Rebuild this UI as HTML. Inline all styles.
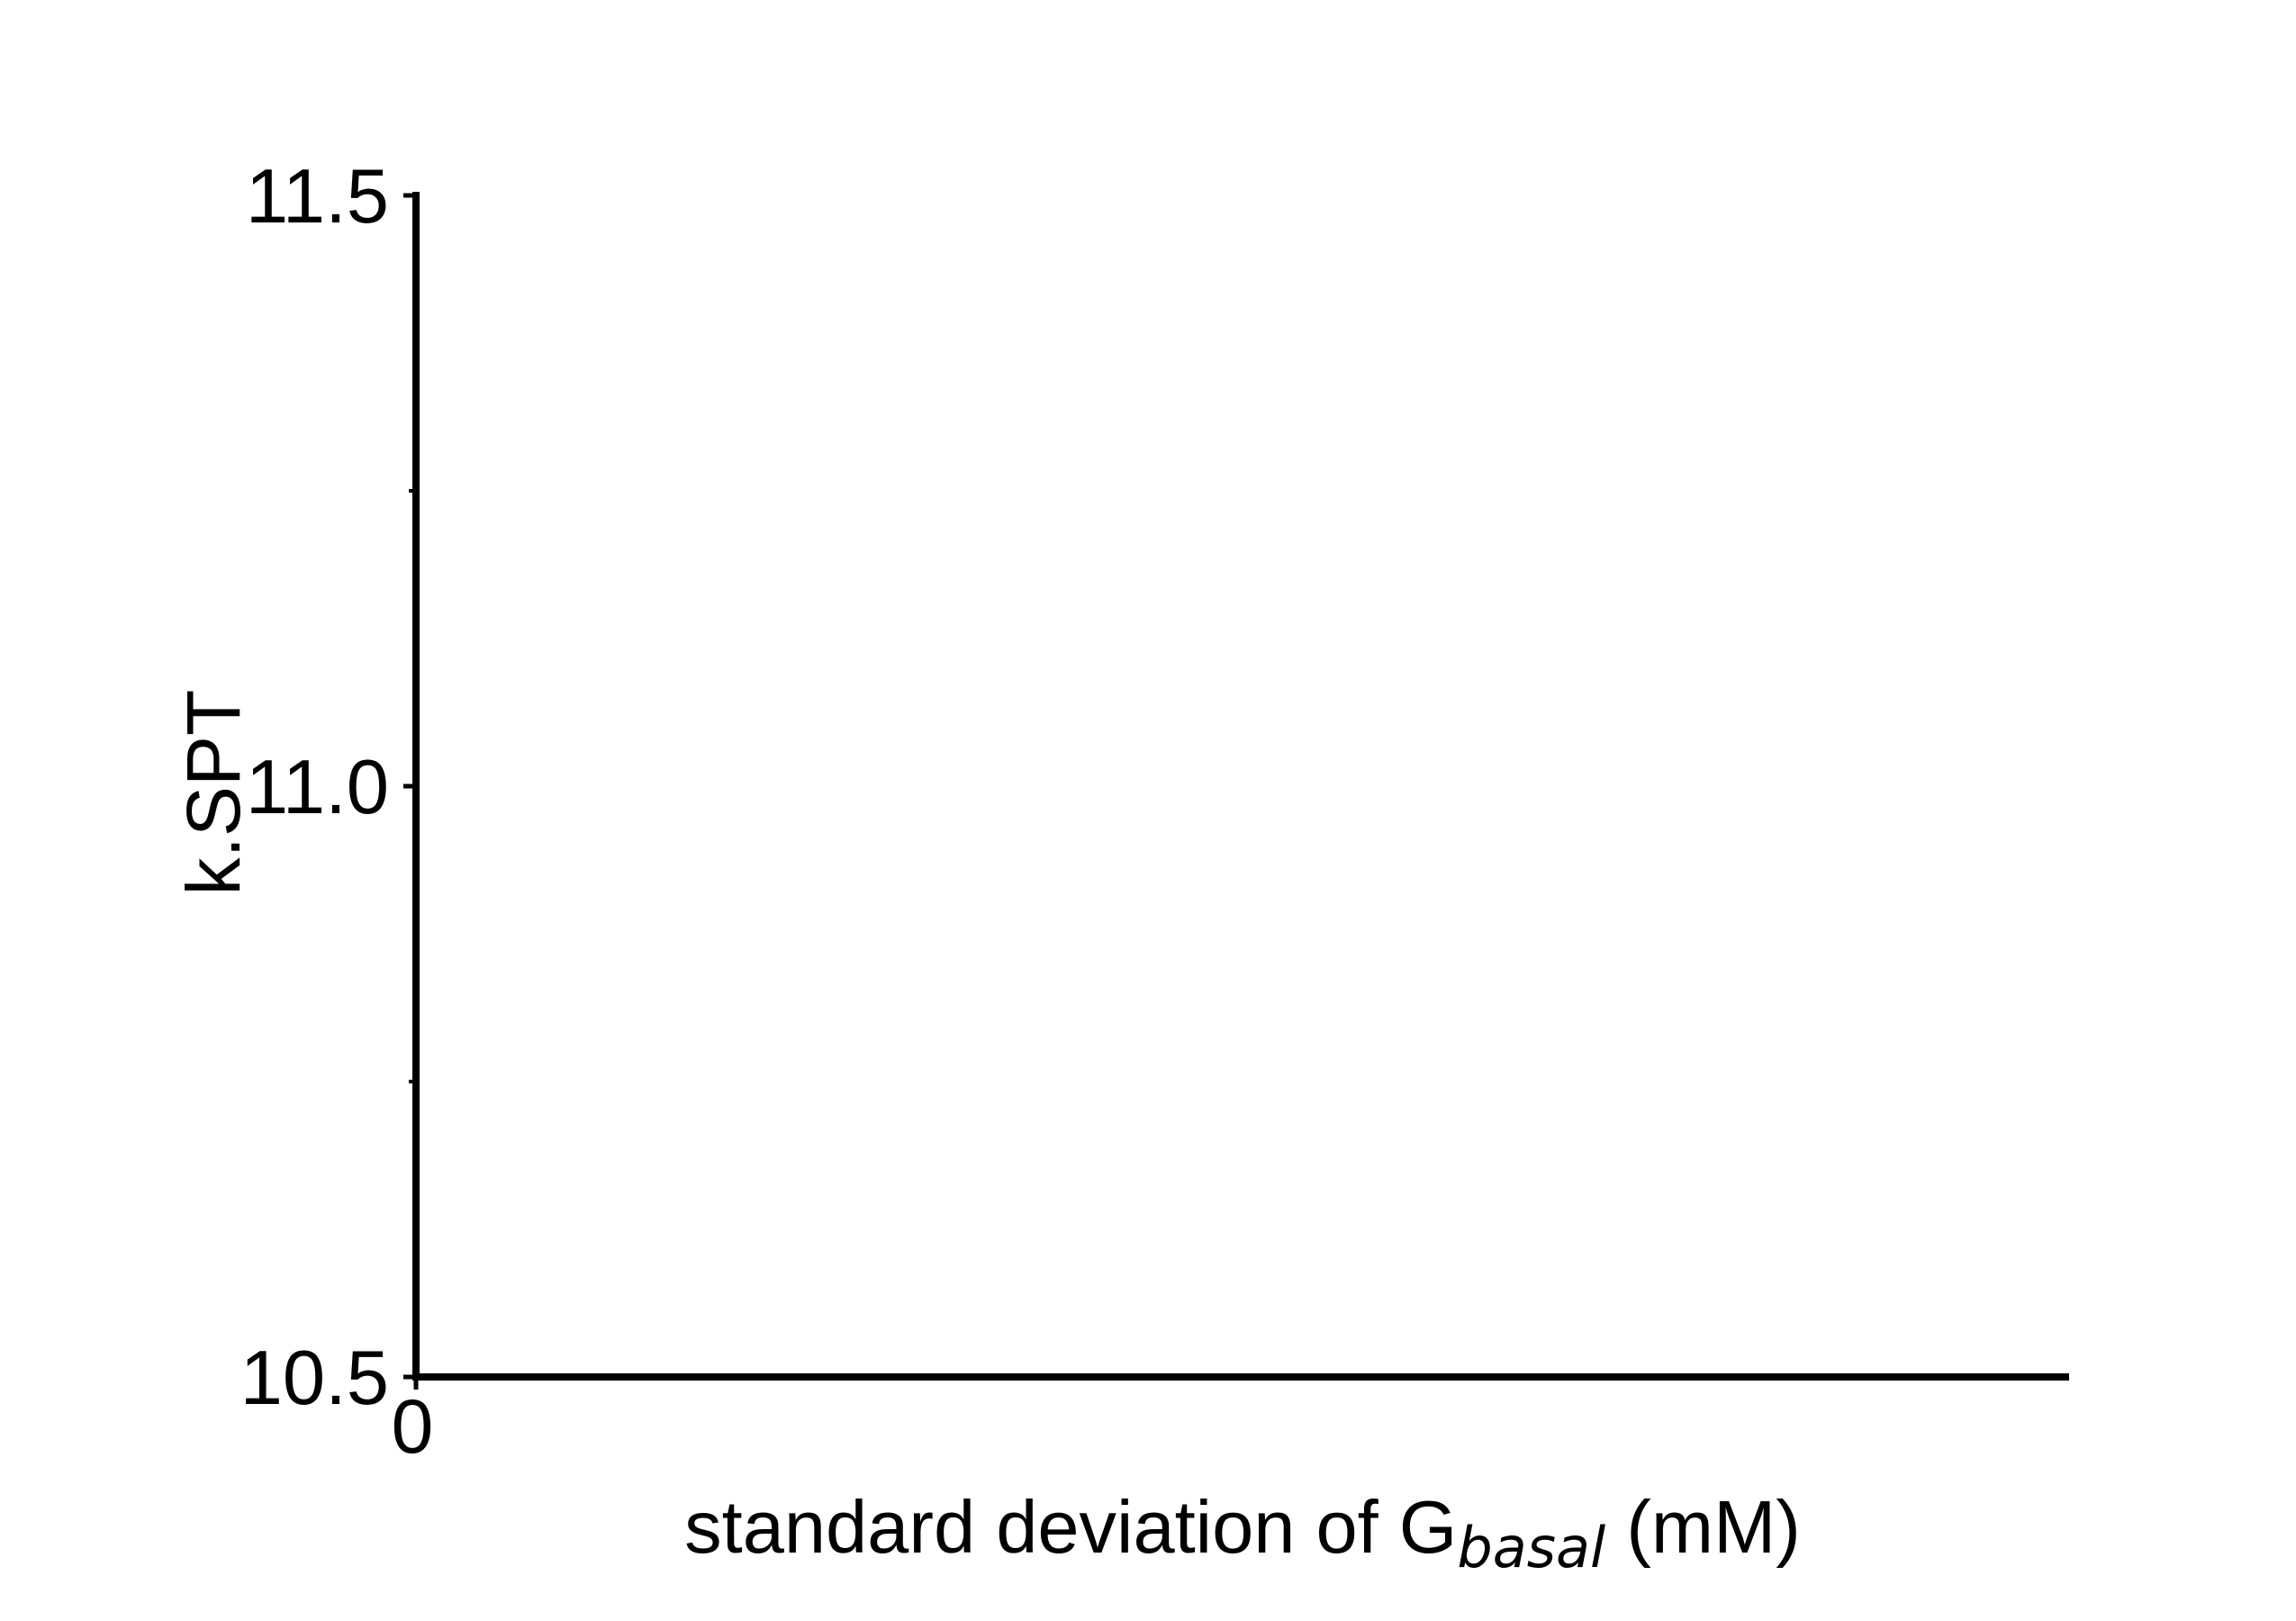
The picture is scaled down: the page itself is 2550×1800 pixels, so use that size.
<!DOCTYPE html>
<html><head><meta charset="utf-8"><style>
html,body{margin:0;padding:0;background:#fff;}
svg{display:block;font-family:"Liberation Sans",Arial,sans-serif;}
</style></head><body>
<svg width="2550" height="1800" viewBox="0 0 2550 1800" id="chart">
<rect width="2550" height="1800" fill="#fff"/>
<g id="axes"></g>
<text x="1380" y="1724" font-size="83" text-anchor="middle">standard deviation of G<tspan font-style="italic" font-family="DejaVu Sans" font-size="62" dy="16">basal</tspan><tspan dy="-16"> (mM)</tspan></text>
<text transform="translate(266,880) rotate(-90)" font-size="84" text-anchor="middle">k.SPT</text>
</svg>
<script>
const yTicks=[10.5,11.0,11.5];
const yTickLabels=["10.5","11.0","11.5"];
const yMinorTicks=[10.75,11.25];
const xTicks=[0];
const xTickLabels=["0"];
const NS="http://www.w3.org/2000/svg";
const X0=462,X1=2298,Y0=1529,Y1=217;
const yMin=10.5,yMax=11.5,xMin=0,xMax=1;
function ys(v){return Y0-(v-yMin)/(yMax-yMin)*(Y0-Y1);}
function xs(v){return X0+(v-xMin)/(xMax-xMin)*(X1-X0);}
const g=document.getElementById('axes');
function mk(tag,attrs){const e=document.createElementNS(NS,tag);for(const k in attrs)e.setAttribute(k,attrs[k]);g.appendChild(e);return e;}
let e=mk('line',{x1:X0,y1:Y1-4,x2:X0,y2:Y0+4,stroke:'#000','stroke-width':8});


e=mk('line',{x1:X0-4,y1:Y0,x2:X1,y2:Y0,stroke:'#000','stroke-width':8});


yTicks.forEach((v,i)=>{
  let t=mk('line',{x1:X0-14,y1:ys(v),x2:X0,y2:ys(v),stroke:'#000','stroke-width':5});
  
  
  let l=mk('text',{x:X0-30,y:ys(v)+30,'font-size':85,'text-anchor':'end'});
  l.textContent=yTickLabels[i];
  
  
});
yMinorTicks.forEach(v=>{
  let t=mk('line',{x1:X0-8,y1:ys(v),x2:X0,y2:ys(v),stroke:'#000','stroke-width':4});
  
  
});
xTicks.forEach((v,i)=>{
  let t=mk('line',{x1:xs(v),y1:Y0,x2:xs(v),y2:Y0+14,stroke:'#000','stroke-width':5});
  
  
  let l=mk('text',{x:xs(v)-4,y:Y0+84,'font-size':84,'text-anchor':'middle'});
  l.textContent=xTickLabels[i];
  
  
});
</script>
</body></html>
